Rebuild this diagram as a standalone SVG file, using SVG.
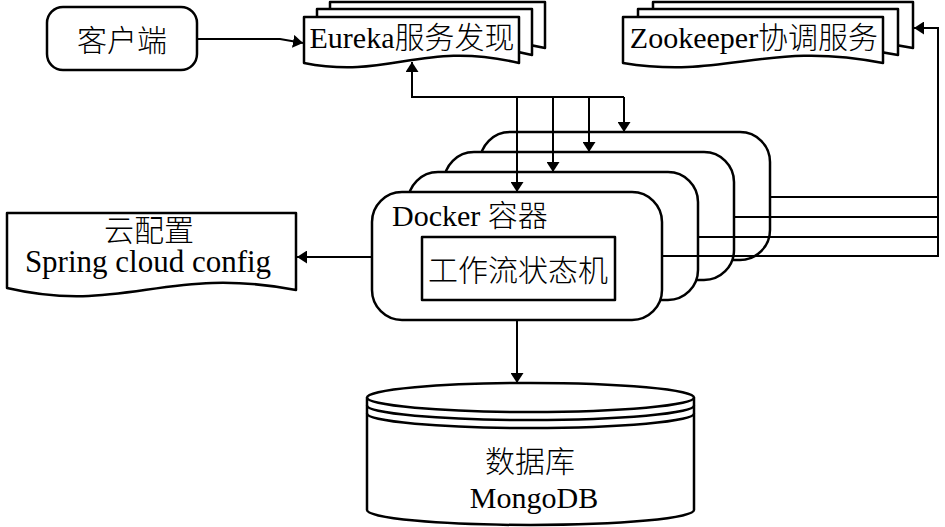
<svg xmlns="http://www.w3.org/2000/svg" width="945" height="527" viewBox="0 0 945 527">
<style>
.s{fill:#fff;stroke:#000;stroke-width:2.5;stroke-linejoin:round}
.c{fill:none;stroke:#000;stroke-width:2}
.t{font-family:"Liberation Serif","Noto Sans CJK SC",serif;font-size:30px;font-weight:300;fill:#000}
.m{text-anchor:middle}
</style>
<defs>
<marker id="ah" markerUnits="userSpaceOnUse" markerWidth="10" markerHeight="13" refX="10" refY="6.5" orient="auto">
<path d="M0,0 L10,6.5 L0,13 Z" fill="#000"/>
</marker>
</defs>
<rect width="945" height="527" fill="#fff"/>

<g id="client">
<rect class="s" x="47" y="7" width="150" height="63" rx="16"/>
<text class="t m" x="122" y="51">客户端</text>
</g>

<g id="eureka">
<path class="s" d="M330,2 H545 V48 C448,25 416,65 330,48 Z"/>
<path class="s" d="M317,9 H532 V55 C435,32 403,72 317,55 Z"/>
<path class="s" d="M304,17 H519 V63 C422,40 390,80 304,63 Z"/>
<text class="t m" x="412" y="48">Eureka服务发现</text>
</g>

<g id="zookeeper">
<path class="s" d="M653,2 H913 V48 C796,25 757,65 653,48 Z"/>
<path class="s" d="M638,9 H898 V55 C781,32 742,72 638,55 Z"/>
<path class="s" d="M623,17 H883 V63 C766,40 727,80 623,63 Z"/>
<text class="t m" x="754" y="48">Zookeeper协调服务</text>
</g>

<g id="config">
<path class="s" d="M7,213 H296 V290 C166,265 123,315 7,288 Z"/>
<text class="t m" x="149" y="241">云配置</text>
<text class="t m" x="148" y="272" style="font-size:31px">Spring cloud config</text>
</g>

<g id="docker4">
<rect class="s" x="480" y="132" width="290" height="128" rx="30"/>
</g>
<g id="docker3">
<rect class="s" x="444" y="152" width="290" height="128" rx="30"/>
</g>
<g id="docker2">
<rect class="s" x="408" y="172" width="290" height="128" rx="30"/>
</g>
<g id="docker1">
<rect class="s" x="372" y="192" width="290" height="128" rx="30"/>
<text class="t" x="392" y="226">Docker 容器</text>
</g>
<g id="workflow">
<rect class="s" x="422" y="237" width="193" height="63"/>
<text class="t m" x="518" y="281">工作流状态机</text>
</g>

<g id="mongodb">
<path class="s" d="M367,397.5 A163.5,14.5 0 0 1 694,397.5 V510 A163.5,15 0 0 1 367,510 Z"/>
<path class="c" style="stroke-width:2.5" d="M367,397.5 A163.5,14.5 0 0 0 694,397.5 M367,405.5 A163.5,14.5 0 0 0 694,405.5 M367,413.5 A163.5,14.5 0 0 0 694,413.5"/>
<text class="t m" x="530" y="472">数据库</text>
<text class="t m" x="534" y="508">MongoDB</text>
</g>

<g id="connectors">
<path class="c" d="M197,39 H280 L303,43" marker-end="url(#ah)"/>
<path class="c" d="M624,97 H412 V62" marker-end="url(#ah)"/>
<path class="c" d="M624,97 V132" marker-end="url(#ah)"/>
<path class="c" d="M589,97 V152" marker-end="url(#ah)"/>
<path class="c" d="M553,97 V172" marker-end="url(#ah)"/>
<path class="c" d="M517,97 V192" marker-end="url(#ah)"/>
<path class="c" d="M372,257 H297" marker-end="url(#ah)"/>
<path class="c" d="M517,320 V383" marker-end="url(#ah)"/>
<path class="c" d="M769,197 H938 M733,217 H938 M698,237 H938"/>
<path class="c" d="M662,256 H938 V28 H914" marker-end="url(#ah)"/>
</g>
</svg>
